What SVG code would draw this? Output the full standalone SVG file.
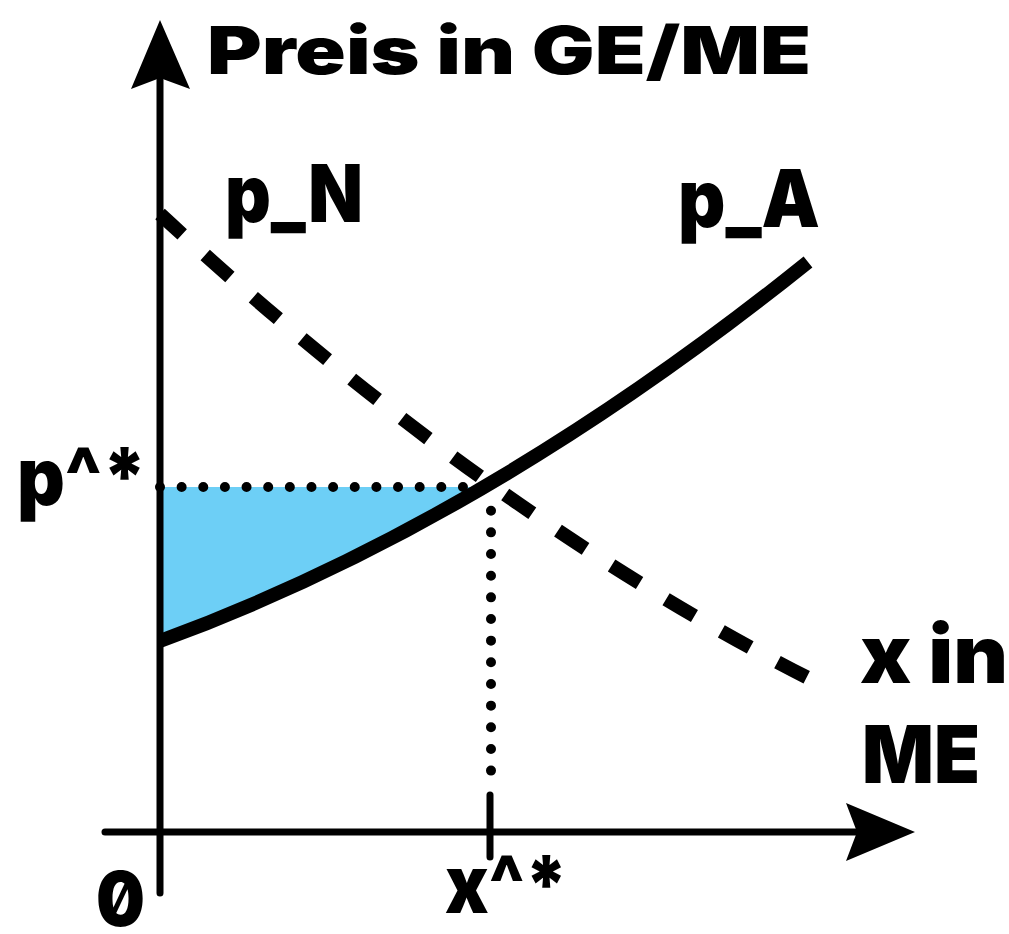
<svg xmlns="http://www.w3.org/2000/svg" width="1009" height="934" viewBox="0 0 1009 934">
  <style>
    .lbl { font-family: Inter, "Liberation Sans", "DejaVu Sans", sans-serif; font-weight: 900; fill: #000; }
    .axis { stroke: #000; stroke-width: 7; fill: none; stroke-linecap: round; }
    .dots { stroke: #000; stroke-width: 10; fill: none; stroke-linecap: round; }
  </style>
  <rect width="1009" height="934" fill="#fff"/>

  <g id="area">
    <path d="M160,641 Q322,581.75 484,487 L160,487 Z" fill="#6dcff6"/>
  </g>

  <g id="guides">
    <line class="dots" x1="160" y1="487" x2="463" y2="487" stroke-dasharray="0 21.64"/>
    <line class="dots" x1="491" y1="510.7" x2="491" y2="771" stroke-dasharray="0 21.66"/>
  </g>

  <g id="axes">
    <line class="axis" x1="160" y1="893" x2="160" y2="80"/>
    <path d="M160,20 L131,89 L160,78 L190,89 Z" fill="#000"/>
    <line class="axis" x1="105" y1="832" x2="858" y2="832"/>
    <path d="M915,832 L846,803 L857,832 L846,861 Z" fill="#000"/>
    <line class="axis" x1="490" y1="795" x2="490" y2="857"/>
  </g>

  <g id="curves">
    <path id="pN-curve" d="M160,214 Q483,512 808,678" fill="none" stroke="#000" stroke-width="14" stroke-dasharray="33 31" stroke-dashoffset="3"/>
    <path id="pA-curve" d="M160,641 Q484,522.5 808,262" fill="none" stroke="#000" stroke-width="14"/>
  </g>

  <g id="labels">
    <text class="lbl" x="207" y="74" font-size="66" textLength="604" lengthAdjust="spacingAndGlyphs">Preis in GE/ME</text>
    <text class="lbl" x="225" y="222" font-size="80" textLength="138" lengthAdjust="spacingAndGlyphs">p_N</text>
    <text class="lbl" x="678" y="227" font-size="80" textLength="142" lengthAdjust="spacingAndGlyphs">p_A</text>
    <text class="lbl" x="17" y="505" font-size="80" textLength="130" lengthAdjust="spacingAndGlyphs">p^*</text>
    <text class="lbl" x="860" y="683" font-size="80" textLength="148" lengthAdjust="spacingAndGlyphs">x in</text>
    <text class="lbl" x="862" y="783" font-size="80" textLength="118" lengthAdjust="spacingAndGlyphs">ME</text>
    <text class="lbl" x="445" y="913" font-size="80" textLength="123" lengthAdjust="spacingAndGlyphs">x^*</text>
    <text class="lbl" x="96" y="926" font-size="76" textLength="49" lengthAdjust="spacingAndGlyphs" style="font-feature-settings:'zero' 1">0</text>
  </g>
</svg>
